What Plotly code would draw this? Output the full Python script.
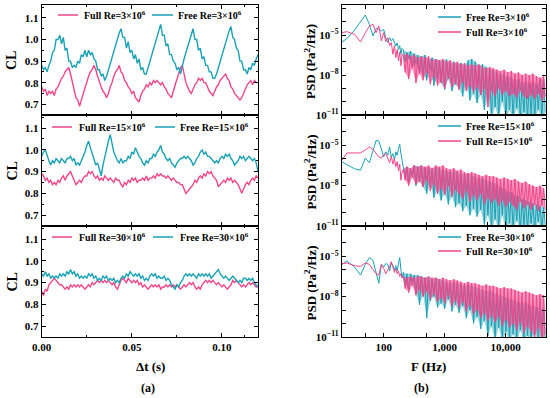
import numpy as np
import plotly.graph_objects as go

PINK = '#F0468A'
CYAN = '#1AA1B4'
PINK_BAND = 'rgba(240,70,138,0.55)'
CYAN_BAND = 'rgba(26,161,180,0.45)'
FONT = 'Liberation Serif'

# ---------------- (a) lift coefficient time series (step 1 ms, 0 .. 0.12 s) ----------------
cl_full_3 = [0.78,0.76,0.77,0.74,0.76,0.75,0.76,0.74,0.77,0.78,0.80,
             0.82,0.83,0.85,0.86,0.87,0.84,0.80,0.76,0.73,0.72,
             0.69,0.72,0.75,0.78,0.81,0.83,0.85,0.86,0.88,0.86,
             0.83,0.80,0.78,0.76,0.75,0.73,0.75,0.78,0.80,0.83,
             0.85,0.86,0.88,0.85,0.84,0.81,0.80,0.78,0.77,0.75,
             0.76,0.73,0.72,0.71,0.74,0.76,0.77,0.79,0.78,0.80,
             0.79,0.81,0.80,0.81,0.80,0.79,0.80,0.78,0.77,0.75,
             0.74,0.73,0.76,0.79,0.82,0.85,0.87,0.88,0.84,0.80,
             0.78,0.76,0.75,0.77,0.79,0.80,0.82,0.81,0.82,0.80,
             0.80,0.78,0.76,0.75,0.74,0.76,0.78,0.79,0.81,0.82,
             0.83,0.84,0.82,0.81,0.78,0.77,0.75,0.74,0.73,0.72,
             0.73,0.75,0.77,0.79,0.80,0.81,0.79,0.81,0.80,0.80]
cl_free_3 = [0.88,0.86,0.87,0.85,0.88,0.90,0.94,0.95,1.00,1.00,1.02,
             0.98,1.01,0.95,0.96,0.90,0.90,0.87,0.88,0.87,0.90,
             0.89,0.93,0.92,0.95,0.92,0.95,0.93,0.94,0.91,0.90,
             0.86,0.86,0.83,0.84,0.81,0.83,0.86,0.89,0.92,0.95,
             0.98,1.01,1.03,1.05,1.01,1.01,0.96,0.99,0.94,0.95,
             0.91,0.93,0.89,0.91,0.86,0.87,0.84,0.84,0.87,0.90,
             0.93,0.96,0.99,1.02,1.04,1.07,1.02,1.02,0.97,0.98,
             0.93,0.93,0.90,0.89,0.86,0.87,0.84,0.88,0.91,0.94,
             0.97,1.00,1.02,1.05,1.00,1.00,0.95,0.96,0.91,0.92,
             0.88,0.88,0.85,0.85,0.82,0.82,0.84,0.87,0.90,0.93,
             0.96,0.99,1.02,1.04,1.06,1.01,1.00,0.96,0.95,0.90,
             0.90,0.86,0.86,0.84,0.87,0.86,0.89,0.88,0.91,0.93]
cl_full_15 = [0.89,0.88,0.86,0.87,0.85,0.86,0.84,0.85,0.84,0.86,0.85,
              0.87,0.88,0.86,0.88,0.89,0.90,0.88,0.86,0.84,0.85,
              0.86,0.85,0.87,0.88,0.88,0.90,0.89,0.90,0.88,0.87,
              0.88,0.86,0.87,0.86,0.88,0.87,0.86,0.87,0.86,0.85,
              0.87,0.86,0.86,0.84,0.83,0.85,0.84,0.86,0.85,0.87,
              0.86,0.87,0.85,0.86,0.86,0.87,0.86,0.88,0.86,0.87,
              0.87,0.88,0.87,0.89,0.88,0.89,0.88,0.88,0.87,0.88,
              0.87,0.86,0.87,0.86,0.85,0.85,0.84,0.84,0.82,0.80,
              0.81,0.82,0.83,0.84,0.86,0.85,0.87,0.88,0.87,0.89,
              0.88,0.90,0.89,0.90,0.88,0.87,0.86,0.83,0.84,0.85,
              0.86,0.85,0.87,0.86,0.87,0.85,0.86,0.85,0.84,0.82,
              0.80,0.82,0.84,0.85,0.84,0.86,0.87,0.86,0.88,0.87]
cl_free_15 = [0.97,0.99,1.00,0.97,0.95,0.93,0.95,0.94,0.96,0.95,0.94,
              0.96,0.95,0.94,0.96,0.96,0.97,0.95,0.96,0.93,0.94,
              0.93,0.95,0.97,0.99,1.02,1.04,1.01,0.98,0.95,0.93,
              0.94,0.91,0.88,0.93,0.97,1.01,1.04,1.07,1.03,0.99,
              0.97,0.95,0.94,0.96,0.94,0.95,0.95,0.97,0.96,0.99,
              0.98,1.01,0.99,0.97,0.96,0.94,0.93,0.95,0.94,0.96,
              0.96,0.98,0.97,0.99,1.00,1.02,0.99,0.98,0.96,0.95,
              0.96,0.94,0.93,0.92,0.94,0.95,0.96,0.96,0.97,0.96,
              0.97,0.96,0.95,0.93,0.94,0.96,0.97,0.99,1.00,0.98,
              0.99,0.97,0.97,0.96,0.95,0.94,0.95,0.94,0.96,0.97,
              0.96,0.98,0.97,0.98,0.96,0.95,0.93,0.94,0.95,0.97,
              0.96,0.97,0.95,0.96,0.97,0.96,0.95,0.96,0.94,0.90]
cl_full_30 = [0.86,0.84,0.87,0.86,0.89,0.90,0.91,0.92,0.91,0.90,0.89,
              0.89,0.88,0.87,0.88,0.87,0.89,0.88,0.89,0.88,0.89,
              0.88,0.89,0.88,0.87,0.88,0.89,0.88,0.90,0.89,0.90,
              0.91,0.90,0.91,0.90,0.91,0.90,0.91,0.90,0.89,0.90,
              0.88,0.87,0.89,0.91,0.92,0.91,0.90,0.92,0.91,0.90,
              0.91,0.90,0.91,0.89,0.90,0.88,0.89,0.88,0.87,0.88,
              0.89,0.88,0.89,0.88,0.89,0.87,0.88,0.88,0.89,0.88,
              0.89,0.88,0.89,0.88,0.89,0.88,0.87,0.88,0.89,0.88,
              0.89,0.90,0.89,0.90,0.88,0.87,0.88,0.87,0.89,0.90,
              0.91,0.90,0.91,0.90,0.91,0.90,0.89,0.90,0.89,0.88,
              0.89,0.88,0.87,0.88,0.89,0.91,0.90,0.91,0.90,0.89,
              0.88,0.89,0.88,0.89,0.90,0.89,0.90,0.89,0.88,0.88]
cl_free_30 = [0.94,0.93,0.95,0.93,0.94,0.92,0.93,0.92,0.93,0.92,0.94,
              0.93,0.94,0.93,0.95,0.94,0.96,0.94,0.95,0.93,0.94,
              0.92,0.93,0.92,0.93,0.92,0.94,0.93,0.94,0.92,0.93,
              0.91,0.92,0.91,0.93,0.92,0.93,0.91,0.92,0.91,0.92,
              0.90,0.91,0.90,0.92,0.93,0.92,0.94,0.93,0.95,0.94,
              0.93,0.94,0.93,0.94,0.92,0.93,0.91,0.92,0.91,0.93,
              0.94,0.93,0.94,0.92,0.93,0.92,0.92,0.93,0.91,0.92,
              0.91,0.89,0.88,0.87,0.89,0.88,0.90,0.91,0.93,0.94,
              0.93,0.94,0.93,0.94,0.93,0.92,0.94,0.93,0.94,0.93,
              0.94,0.93,0.94,0.92,0.93,0.94,0.95,0.96,0.94,0.93,
              0.92,0.93,0.92,0.91,0.92,0.93,0.92,0.91,0.90,0.91,
              0.90,0.92,0.92,0.91,0.92,0.91,0.92,0.90,0.89,0.88]

# ---------------- (b) PSD, stored as log10 values ----------------
freq_low = [20, 25, 33.3, 41.7, 50, 58.3, 66.7, 75, 83.3, 91.7, 100, 108.3,
            116.7, 125, 133.3, 141.7, 150, 158.3, 166.7, 175, 183.3, 191.7, 200]
freq_high = np.geomspace(210, 45000, 80)   # frequency sampling grid

psd_free_3_low = [-5.57,-5.27,-4.63,-4.03,-3.5,-4.2,-5.07,-4.53,-4.53,-4.7,-4.58,-5.2,
                  -5.57,-5.2,-5.45,-5.27,-5.52,-5.82,-5.6,-6.07,-5.8,-6.44,-6.0]
psd_full_3_low = [-4.83,-4.75,-4.95,-5.52,-4.83,-4.33,-4.2,-4.83,-4.33,-5.45,-4.83,-5.5,
                  -5.2,-5.8,-5.57,-6.44,-5.8,-6.7,-6.07,-6.94,-6.3,-7.3,-6.45]
psd_free_15_low = [-6.2,-6.45,-6.75,-6.85,-5.95,-6.3,-5.5,-4.65,-4.68,-5.37,-5.86,-5.49,
                   -5.74,-5.12,-5.86,-5.62,-6.1,-5.49,-5.75,-5.25,-4.93,-5.62,-6.1]
psd_full_15_low = [-6.2,-5.57,-5.57,-5.57,-5.35,-5.12,-5.3,-5.6,-5.86,-5.95,-5.7,-5.6,
                   -5.9,-6.3,-5.8,-6.4,-6.0,-6.6,-6.2,-6.9,-6.4,-7.6,-7.0]
psd_free_30_low = [-5.66,-5.35,-5.8,-6.39,-5.6,-5.1,-5.3,-6.3,-7.0,-5.6,-5.8,-5.55,
                   -5.6,-6.1,-5.5,-5.7,-6.0,-5.7,-6.1,-5.5,-5.1,-6.0,-6.6]
psd_full_30_low = [-5.55,-5.5,-5.7,-5.75,-5.5,-5.6,-6.0,-6.3,-6.4,-5.6,-5.9,-6.3,
                   -6.0,-5.8,-5.4,-5.9,-6.2,-5.9,-6.3,-6.1,-6.5,-6.3,-6.6]

psd_free_3_high = [-6.1,-7.0,-6.3,-6.8,-6.2,-7.4,-6.4,-7.2,-6.5,-7.8,
                   -6.6,-7.9,-6.5,-8.4,-6.9,-7.6,-6.7,-8.8,-6.8,-8.2,
                   -6.9,-8.6,-7.0,-9.1,-6.8,-8.3,-7.2,-9.2,-7.0,-8.7,
                   -7.2,-9.0,-7.1,-9.6,-7.3,-8.8,-6.9,-9.9,-6.8,-9.4,
                   -7.0,-10.1,-7.3,-9.5,-7.2,-10.6,-7.4,-9.8,-7.6,-11.3,
                   -7.6,-10.4,-7.8,-11.3,-7.9,-10.0,-8.0,-11.3,-8.1,-10.6,
                   -8.2,-11.3,-8.4,-10.5,-8.3,-11.3,-8.6,-10.8,-8.5,-11.3,
                   -8.6,-10.9,-8.5,-11.3,-8.7,-10.6,-8.4,-11.3,-8.3,-10.8]
psd_full_3_high = [-6.5,-7.8,-6.4,-8.3,-6.6,-7.5,-6.5,-8.6,-6.7,-7.9,
                   -6.6,-8.4,-6.7,-7.8,-6.6,-8.7,-6.9,-8.1,-6.8,-8.8,
                   -6.9,-8.5,-6.8,-9.0,-7.0,-8.2,-6.9,-8.9,-7.1,-8.6,
                   -7.0,-9.1,-7.2,-8.5,-7.1,-9.2,-7.3,-8.8,-7.2,-9.3,
                   -7.3,-8.9,-7.2,-9.5,-7.4,-9.0,-7.5,-10.4,-7.4,-9.2,
                   -7.5,-9.6,-7.6,-9.0,-7.7,-9.5,-7.6,-9.2,-7.8,-9.6,
                   -7.7,-9.4,-7.9,-9.7,-7.8,-9.2,-8.0,-9.6,-7.9,-9.8,
                   -8.0,-9.5,-7.9,-9.8,-8.1,-9.4,-8.2,-9.9,-8.1,-9.6]
psd_free_15_high = [-6.7,-7.4,-6.6,-7.8,-6.8,-7.2,-6.5,-8.0,-6.6,-7.6,
                    -6.5,-8.1,-6.7,-8.6,-6.6,-7.9,-6.8,-8.9,-6.6,-8.4,
                    -6.7,-9.1,-6.8,-8.6,-6.9,-9.4,-7.0,-8.8,-6.9,-9.6,
                    -7.0,-9.3,-7.1,-9.9,-7.2,-9.5,-7.1,-10.2,-7.3,-9.7,
                    -7.3,-10.3,-7.5,-9.8,-7.4,-10.9,-7.6,-10.2,-7.7,-11.3,
                    -7.8,-10.5,-7.9,-11.3,-8.1,-10.2,-8.2,-11.3,-8.4,-10.8,
                    -8.5,-11.3,-8.7,-10.6,-8.8,-11.3,-9.0,-10.9,-9.1,-11.3,
                    -9.2,-10.8,-9.3,-11.3,-9.4,-10.7,-9.5,-11.3,-9.6,-11.0]
psd_full_15_high = [-6.8,-7.6,-6.6,-8.0,-6.7,-7.4,-6.5,-7.9,-6.6,-7.7,
                    -6.5,-8.1,-6.6,-7.6,-6.5,-8.4,-6.7,-7.9,-6.5,-8.6,
                    -6.6,-8.2,-6.5,-8.7,-6.7,-8.0,-6.8,-8.8,-6.7,-8.3,
                    -6.9,-8.6,-6.8,-9.0,-7.0,-8.4,-7.1,-9.2,-7.0,-8.7,
                    -7.1,-9.1,-7.2,-8.6,-7.3,-9.4,-7.2,-8.9,-7.3,-9.3,
                    -7.3,-9.0,-7.4,-9.5,-7.5,-9.1,-7.4,-9.6,-7.5,-9.2,
                    -7.6,-9.5,-7.5,-9.8,-7.7,-9.2,-7.8,-9.7,-7.7,-9.4,
                    -7.9,-9.8,-8.0,-9.4,-8.1,-9.9,-8.0,-9.5,-8.2,-9.8]
psd_free_30_high = [-6.2,-7.1,-6.3,-7.5,-6.3,-6.9,-6.4,-7.8,-6.4,-8.6,
                    -6.5,-7.9,-6.6,-9.6,-6.5,-8.3,-6.7,-8.0,-6.6,-8.8,
                    -6.7,-8.5,-6.8,-8.9,-6.9,-8.2,-7.0,-9.1,-6.9,-8.6,
                    -7.0,-9.2,-7.1,-8.7,-7.2,-9.6,-7.1,-9.0,-7.2,-10.0,
                    -7.3,-9.5,-7.4,-10.4,-7.5,-9.8,-7.6,-10.9,-7.5,-10.2,
                    -7.7,-11.3,-7.8,-10.3,-7.9,-11.3,-8.0,-10.6,-8.1,-11.3,
                    -8.2,-10.8,-8.3,-11.3,-8.4,-10.5,-8.5,-11.3,-8.4,-10.9,
                    -8.6,-11.3,-8.7,-10.7,-8.8,-11.3,-8.8,-10.9,-8.9,-11.3]
psd_full_30_high = [-6.5,-7.4,-6.6,-7.7,-6.5,-7.2,-6.6,-7.9,-6.5,-7.5,
                    -6.5,-8.0,-6.6,-7.6,-6.5,-8.2,-6.6,-7.8,-6.6,-8.4,
                    -6.7,-8.1,-6.6,-8.5,-6.7,-7.9,-6.8,-8.7,-6.7,-8.3,
                    -6.8,-8.8,-6.9,-8.4,-7.0,-9.1,-6.9,-8.6,-7.0,-9.3,
                    -7.0,-9.0,-7.1,-9.6,-7.2,-9.2,-7.1,-9.8,-7.2,-9.4,
                    -7.2,-9.9,-7.3,-9.5,-7.4,-10.2,-7.3,-9.7,-7.4,-10.3,
                    -7.4,-10.0,-7.5,-10.5,-7.6,-9.9,-7.7,-10.7,-7.6,-10.2,
                    -7.7,-10.6,-7.8,-11.0,-7.9,-10.3,-7.8,-11.2,-7.9,-10.8]

re_labels = ['3', '15', '30']
cl_x_ticks = [0.0, 0.05, 0.10]
psd_x_ticks = [100, 1000, 10000]
psd_x_ticktext = ['100', '1,000', '10,000']

# ---------------- figure ----------------
W, H = 550, 398
def px(x): return x / W
def py(y): return 1 - y / H

t = np.linspace(0, 0.12, len(cl_full_3))
freq = np.concatenate([freq_low, freq_high])

left = [(cl_full_3, cl_free_3), (cl_full_15, cl_free_15), (cl_full_30, cl_free_30)]
right = [((psd_free_3_low, psd_free_3_high), (psd_full_3_low, psd_full_3_high)),
         ((psd_free_15_low, psd_free_15_high), (psd_full_15_low, psd_full_15_high)),
         ((psd_free_30_low, psd_free_30_high), (psd_full_30_low, psd_full_30_high))]

panel_px = [(5, 115), (115, 226), (226, 337)]
LX = (41.7, 258.0)
RX = (341.7, 545.5)

fig = go.Figure()
tickfont = dict(family=FONT, size=11, color='black', weight='bold')
frame = dict(showline=True, linecolor='black', linewidth=1, mirror='ticks',
             ticks='inside', ticklen=4, tickcolor='black', showgrid=False,
             zeroline=False, tickfont=tickfont, automargin=False)

def axname(n, kind):
    return kind if n == 1 else f'{kind}{n}'

for i, (full, free) in enumerate(left):
    n = i + 1
    fig.add_trace(go.Scatter(x=t, y=full, mode='lines', line=dict(color=PINK, width=1.4),
                             xaxis=axname(n, 'x'), yaxis=axname(n, 'y'), showlegend=False))
    fig.add_trace(go.Scatter(x=t, y=free, mode='lines', line=dict(color=CYAN, width=1.4),
                             xaxis=axname(n, 'x'), yaxis=axname(n, 'y'), showlegend=False))
    top, bot = panel_px[i]
    fig.layout[f'xaxis{n}' if n > 1 else 'xaxis'] = dict(
        domain=[px(LX[0]), px(LX[1])], anchor=axname(n, 'y'), range=[0, 0.12],
        tickvals=cl_x_ticks, ticktext=['0.00', '0.05', '0.10'],
        showticklabels=(i == 2),
        minor=dict(ticks='inside', ticklen=2, tickvals=[0.025, 0.075, 0.1125], tickcolor='black'),
        **frame)
    fig.layout[f'yaxis{n}' if n > 1 else 'yaxis'] = dict(
        domain=[py(bot), py(top)], anchor=axname(n, 'x'), range=[0.65, 1.16],
        tickvals=[0.7, 0.8, 0.9, 1.0, 1.1], ticktext=['0.7', '0.8', '0.9', '1.0', '1.1'],
        minor=dict(ticks='inside', ticklen=2, tickvals=[0.75, 0.85, 0.95, 1.05, 1.15], tickcolor='black'),
        **frame)

def add_psd(n, low, high, color, band):
    hi = np.array(high)
    # shaded band spanning the dense high-frequency oscillation (peaks / troughs of the series)
    bx = np.concatenate([freq_high[0::2], freq_high[1::2][::-1]])
    by = np.concatenate([hi[0::2], hi[1::2][::-1]])
    fig.add_trace(go.Scatter(x=bx, y=10.0 ** by, mode='lines', fill='toself', fillcolor=band,
                             line=dict(width=0), hoverinfo='skip',
                             xaxis=axname(n, 'x'), yaxis=axname(n, 'y'), showlegend=False))
    fig.add_trace(go.Scatter(x=freq, y=10.0 ** np.concatenate([low, hi]), mode='lines',
                             line=dict(color=color, width=1),
                             xaxis=axname(n, 'x'), yaxis=axname(n, 'y'), showlegend=False))

decades = [10.0 ** e for e in range(-11, -2)]
dec_text = ['10<sup>−11</sup>', '', '', '10<sup>−8</sup>', '', '', '10<sup>−5</sup>', '', '']
for i, (free, full) in enumerate(right):
    n = i + 4
    add_psd(n, free[0], free[1], CYAN, CYAN_BAND)
    add_psd(n, full[0], full[1], PINK, PINK_BAND)
    top, bot = panel_px[i]
    fig.layout[f'xaxis{n}'] = dict(
        domain=[px(RX[0]), px(RX[1])], anchor=axname(n, 'y'), type='log',
        range=[np.log10(20.5), np.log10(45000)],
        tickvals=[50, 100, 500, 1000, 5000, 10000],
        ticktext=['', psd_x_ticktext[0], '', psd_x_ticktext[1], '', psd_x_ticktext[2]],
        showticklabels=(i == 2), **frame)
    fig.layout[f'yaxis{n}'] = dict(
        domain=[py(bot), py(top)], anchor=axname(n, 'x'), type='log',
        range=[-11, -2.75], tickvals=decades, ticktext=dec_text, **frame)

ann = []
shapes = []
bold = dict(family=FONT, color='black', weight='bold')
for i in range(3):
    top, bot = panel_px[i]
    ann.append(dict(x=px(12), y=py((top + bot) / 2 + 1), xref='paper', yref='paper',
                    text='CL', textangle=-90, showarrow=False,
                    font=dict(size=14, **bold), xanchor='center', yanchor='middle'))
    ann.append(dict(x=px(310), y=py((top + bot) / 2 + 2), xref='paper', yref='paper',
                    text='PSD (Pa<sup>2</sup>/Hz)', textangle=-90, showarrow=False,
                    font=dict(size=13, **bold), xanchor='center', yanchor='middle'))

ann += [dict(x=px(150), y=py(366), xref='paper', yref='paper', text='Δt (s)', showarrow=False,
             font=dict(size=13, **bold), xanchor='center', yanchor='middle'),
        dict(x=px(428), y=py(366), xref='paper', yref='paper', text='F (Hz)', showarrow=False,
             font=dict(size=13, **bold), xanchor='center', yanchor='middle'),
        dict(x=px(148), y=py(388), xref='paper', yref='paper', text='(a)', showarrow=False,
             font=dict(size=12, **bold), xanchor='center', yanchor='middle'),
        dict(x=px(421), y=py(388), xref='paper', yref='paper', text='(b)', showarrow=False,
             font=dict(size=12, **bold), xanchor='center', yanchor='middle')]

# legends (drawn manually to match placement)
LEGSIZE = 10
left_leg = [(15, 58, 78, 82, 152, 173, 176), (127, 52, 72, 77, 155, 175, 178), (237, 52, 72, 77, 153, 173, 178)]
for i, (yy, a0, a1, at, b0, b1, bt) in enumerate(left_leg):
    r = re_labels[i]
    shapes.append(dict(type='line', xref='paper', yref='paper', x0=px(a0), x1=px(a1), y0=py(yy), y1=py(yy),
                       line=dict(color=PINK, width=1.5)))
    shapes.append(dict(type='line', xref='paper', yref='paper', x0=px(b0), x1=px(b1), y0=py(yy), y1=py(yy),
                       line=dict(color=CYAN, width=1.5)))
    ann.append(dict(x=px(at), y=py(yy), xref='paper', yref='paper', xanchor='left', yanchor='middle',
                    text=f'Full Re={r}×10<sup>6</sup>', showarrow=False, font=dict(size=LEGSIZE, **bold)))
    ann.append(dict(x=px(bt), y=py(yy), xref='paper', yref='paper', xanchor='left', yanchor='middle',
                    text=f'Free Re={r}×10<sup>6</sup>', showarrow=False, font=dict(size=LEGSIZE, **bold)))

right_leg = [(17, 32), (126, 141), (237, 251)]
for i, (y1, y2) in enumerate(right_leg):
    r = re_labels[i]
    shapes.append(dict(type='line', xref='paper', yref='paper', x0=px(438), x1=px(461), y0=py(y1), y1=py(y1),
                       line=dict(color=CYAN, width=1.5)))
    shapes.append(dict(type='line', xref='paper', yref='paper', x0=px(438), x1=px(461), y0=py(y2), y1=py(y2),
                       line=dict(color=PINK, width=1.5)))
    ann.append(dict(x=px(464), y=py(y1), xref='paper', yref='paper', xanchor='left', yanchor='middle',
                    text=f'Free Re={r}×10<sup>6</sup>', showarrow=False, font=dict(size=LEGSIZE, **bold)))
    ann.append(dict(x=px(464), y=py(y2), xref='paper', yref='paper', xanchor='left', yanchor='middle',
                    text=f'Full Re={r}×10<sup>6</sup>', showarrow=False, font=dict(size=LEGSIZE, **bold)))

fig.update_layout(template='none', width=W, height=H, margin=dict(l=0, r=0, t=0, b=0, pad=0),
                  paper_bgcolor='white', plot_bgcolor='white', showlegend=False, hovermode=False,
                  annotations=ann, shapes=shapes, font=dict(family=FONT, color='black'))
fig.write_html('out.html', config={'displayModeBar': False},
               post_script="document.body.style.margin='0';document.body.style.overflow='hidden';")
